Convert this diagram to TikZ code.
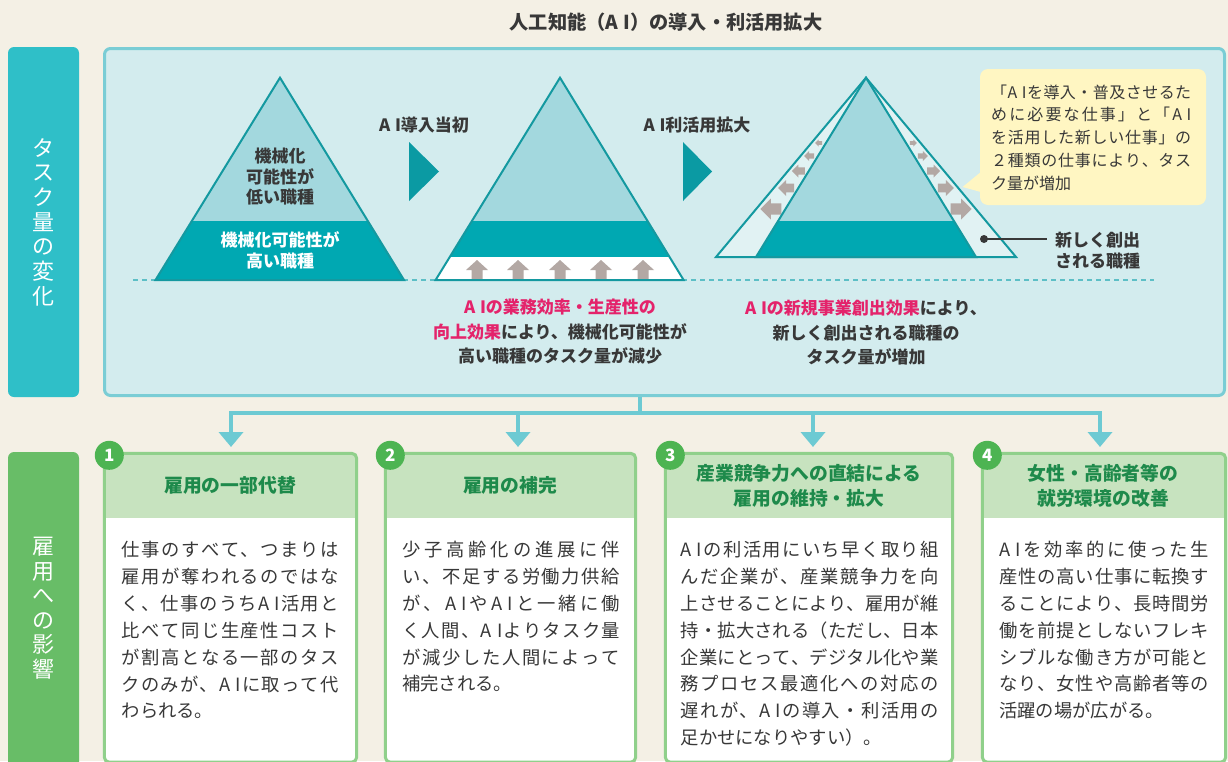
\documentclass[tikz,border=0pt]{standalone}
\usepackage{fontspec}
\usetikzlibrary{arrows.meta,calc}
\newfontfamily\jp{Noto Sans CJK JP}
\definecolor{bgc}{HTML}{F4F0E5}
\definecolor{tealLab}{HTML}{2FBFC8}
\definecolor{greenLab}{HTML}{68BD67}
\definecolor{panelFill}{HTML}{D3ECEE}
\definecolor{panelLine}{HTML}{7ACDD5}
\definecolor{triLight}{HTML}{A3D8DE}
\definecolor{triDark}{HTML}{00A8B2}
\definecolor{triLine}{HTML}{1499A0}
\definecolor{triPale}{HTML}{E1F2F3}
\definecolor{arrDark}{HTML}{0B9AA3}
\definecolor{grayArr}{HTML}{B3A8A4}
\definecolor{pinkT}{HTML}{E4236B}
\definecolor{textDark}{HTML}{383838}
\definecolor{connC}{HTML}{6DCAD3}
\definecolor{boxLine}{HTML}{90D08B}
\definecolor{hdrFill}{HTML}{C7E3BF}
\definecolor{hdrText}{HTML}{1E8A4B}
\definecolor{circC}{HTML}{4DB452}
\definecolor{calFill}{HTML}{FFF6C2}

\def\jspA#1{#1\jspB}
\def\jspB#1{\ifx#1\relax\else\hfil#1\expandafter\jspB\fi}
\newcommand\jline[2]{\makebox[#1][s]{\expandafter\jspA#2\relax}}
\newcommand\AI{A\kern0.28em I}

\tikzset{
  sidelab/.style={rounded corners=6pt, minimum width=71pt, inner sep=0pt, text=white, align=center,
    font=\jp\fontsize{22}{24.7}\selectfont},
  triline/.style={draw=triLine, line width=2pt, line join=miter},
  bold17/.style={text=textDark, align=center, font=\jp\bfseries\fontsize{17}{20.5}\selectfont, inner sep=0pt},
  lowtext/.style={text=textDark, align=center, font=\jp\bfseries\fontsize{17}{24.5}\selectfont, inner sep=0pt},
  body/.style={anchor=west, inner sep=0pt, text=textDark, font=\jp\fontsize{18.3}{18.3}\selectfont},
  caltext/.style={anchor=west, inner sep=0pt, text=textDark, font=\jp\fontsize{16}{16}\selectfont},
  hdrT/.style={text=hdrText, align=center, inner sep=0pt, font=\jp\bfseries\fontsize{18.8}{25}\selectfont},
  boxbody/.style={fill=white, rounded corners=5pt, minimum height=308.5pt, inner sep=0pt},
  boxline/.style={draw=boxLine, line width=3pt, rounded corners=5pt},
  numc/.style={circle, fill=circC, text=white, minimum size=29pt, inner sep=0pt,
    font=\jp\bfseries\fontsize{17}{17}\selectfont},
  conn/.style={draw=connC, line width=4pt},
  larr/.pic={\fill[grayArr] (-0.5,0)--(0,-0.5)--(0,-0.27)--(0.5,-0.27)--(0.5,0.27)--(0,0.27)--(0,0.5)--cycle;}
}

\newcommand\empbox[4]{%
  \node[boxbody, minimum width=#3] (#1) at (#2,607.75) {};
  \begin{scope}
    \clip[rounded corners=5pt] (#1.north west) rectangle (#1.south east);
    \fill[hdrFill] (#1.north west) rectangle (#1.east |- hb);
  \end{scope}
  \draw[boxline] (#1.north west) rectangle (#1.south east);
  \node[numc] (#1n) at ([xshift=5pt,yshift=-2pt]#1.north west) {#4};
}

\begin{document}
\begin{tikzpicture}[x=1pt,y=-1pt]
\useasboundingbox (0,0) rectangle (1228,761);
\fill[bgc] (0,0) rectangle (1228,761);

% title
\node[text=textDark, font=\jp\bfseries\fontsize{19.2}{22}\selectfont, inner sep=0pt] (title) at (666,22) {人工知能（\AI）の導入・利活用拡大};

% side labels
\node[sidelab, fill=tealLab, minimum height=350pt] (labA) at (43.5,222) {タ\\ス\\ク\\量\\の\\変\\化};
\node[sidelab, fill=greenLab, minimum height=330pt] (labB) at (43.5,617) {};
\node[text=white, align=center, inner sep=0pt, font=\jp\fontsize{22}{24.5}\selectfont] (labBt) at (43.5,608) {雇\\用\\へ\\の\\影\\響};

% main panel
\node[draw=panelLine, line width=3pt, fill=panelFill, rounded corners=6pt, minimum width=1120pt, minimum height=347pt, inner sep=0pt] (panel) at (664.5,222) {};

% dashed baseline
\coordinate (dl) at (133,280);
\coordinate (dr) at (1154,280);
\draw[draw=connC!85!teal, line width=1.5pt, dash pattern=on 5pt off 4pt] (dl) -- (dr);

% triangle 1
\coordinate (T1a) at (280,77.7);
\coordinate (T1l) at (155.5,280);
\coordinate (T1r) at (404,280);
\begin{scope}
  \clip (T1a)--(T1l)--(T1r)--cycle;
  \fill[triLight] (150,70) rectangle (410,281);
  \fill[triDark] (150,221) rectangle (410,281);
\end{scope}
\draw[triline] (T1a)--(T1l)--(T1r)--cycle;
\node[bold17] (t1top) at (280,177) {機械化\\可能性が\\低い職種};
\node[bold17, text=white, font=\jp\bfseries\fontsize{17}{21}\selectfont] (t1bot) at (280,250.5) {機械化可能性が\\高い職種};

% step arrows
\fill[arrDark] (409,142)--(439,171.5)--(409,201)--cycle;
\fill[arrDark] (683,142)--(712,171.5)--(683,201)--cycle;
\node[bold17] (s1) at (424,125) {\AI 導入当初};
\node[bold17] (s2) at (697,125) {\AI 利活用拡大};

% triangle 2
\coordinate (T2a) at (560,77.7);
\coordinate (T2l) at (435.6,280);
\coordinate (T2r) at (683.6,280);
\begin{scope}
  \clip (T2a)--(T2l)--(T2r)--cycle;
  \fill[triLight] (430,70) rectangle (690,281);
  \fill[triDark] (430,221) rectangle (690,257);
  \fill[white] (430,257) rectangle (690,281);
\end{scope}
\foreach \x in {477,518,560,601,643}
  \fill[grayArr] (\x,260)--(\x+11,270)--(\x+5.5,270)--(\x+5.5,280)--(\x-5.5,280)--(\x-5.5,270)--(\x-11,270)--cycle;
\draw[triline] (T2a)--(T2l)--(T2r)--cycle;

% triangle 3
\coordinate (T3a) at (866,77.7);
\coordinate (T3L) at (716,257);
\coordinate (T3R) at (1016,257);
\coordinate (T3l) at (756,257);
\coordinate (T3r) at (976,257);
\fill[triPale] (T3a)--(T3L)--(T3R)--cycle;
\begin{scope}
  \clip (T3a)--(T3l)--(T3r)--cycle;
  \fill[triLight] (740,70) rectangle (990,258);
  \fill[triDark] (740,221) rectangle (990,258);
\end{scope}
\foreach \y/\s in {143/7,156/10,171/13,188/16,209/21}{
  \pic[scale=\s] at ({866-0.725*(\y-77.7)},\y) {larr};
  \pic[xscale=-\s,yscale=\s] at ({866+0.725*(\y-77.7)},\y) {larr};
}
\draw[triline] (T3a)--(T3L)--(T3R)--cycle;
\draw[triline] (T3a)--(T3l)--(T3r)--cycle;

% callout
\node[fill=calFill, rounded corners=8pt, minimum width=226pt, minimum height=136pt, inner sep=0pt] (cal) at (1093,137) {};
\coordinate (caltip) at (962.6,187);
\fill[calFill] ([xshift=1pt,yshift=-35pt]cal.west) -- (caltip) -- ([xshift=1pt,yshift=-55pt]cal.west) -- cycle;
\foreach \t [count=\i] in {「\AI を導入・普及させるた, めに必要な仕事」と「\AI, を活用した新しい仕事」の, ２種類の仕事により、タス}
  \node[caltext] (c\i) at (991,{92+22.8*(\i-1)}) {\jline{200pt}{\t}};
\node[caltext] (c5) at (991,183.2) {ク量が増加};

% new jobs pointer
\coordinate (dot) at (984,239);
\node[bold17, anchor=west, align=left, font=\jp\bfseries\fontsize{17}{21}\selectfont] (newjob) at (1055,250.5) {新しく創出\\される職種};
\fill[textDark] (dot) circle (4pt);
\draw[textDark, line width=1.6pt] (dot) -- ([xshift=-8pt]dot -| newjob.west);

% lower explanations
\node[lowtext] (ex1) at (560,332) {\textcolor{pinkT}{\AI の業務効率・生産性の}\\\textcolor{pinkT}{向上効果}により、機械化可能性が\\高い職種のタスク量が減少};
\node[lowtext] (ex2) at (866,333) {\textcolor{pinkT}{\AI の新規事業創出効果}により、\\新しく創出される職種の\\タスク量が増加};

% boxes
\coordinate (hb) at (0,518);
\empbox{b1}{230.5}{252pt}{1}
\empbox{b2}{510.5}{250pt}{2}
\empbox{b3}{809}{287pt}{3}
\empbox{b4}{1104}{243pt}{4}

\node[hdrT] (h1) at (230,485) {雇用の一部代替};
\node[hdrT] (h2) at (510,485) {雇用の補完};
\node[hdrT] (h3) at (809,485.5) {産業競争力への直結による\\雇用の維持・拡大};
\node[hdrT] (h4) at (1103,485.5) {女性・高齢者等の\\就労環境の改善};

% body texts
\foreach \t [count=\i] in {仕事のすべて、つまりは, 雇用が奪われるのではな, く、仕事のうち\AI 活用と, 比べて同じ生産性コスト, が割高となる一部のタス, クのみが、\AI に取って代}
  \node[body] (pa\i) at (121.5,{550+26.8*(\i-1)}) {\jline{217pt}{\t}};
\node[body] (pa7) at (121.5,{550+26.8*6}) {わられる。};

\foreach \t [count=\i] in {少子高齢化の進展に伴, い、不足する労働力供給, が、\AI や\AI と一緒に働, く人間、\AI よりタスク量, が減少した人間によって}
  \node[body] (pb\i) at (402,{550+26.8*(\i-1)}) {\jline{218pt}{\t}};
\node[body] (pb6) at (402,{550+26.8*5}) {補完される。};

\foreach \t [count=\i] in {\AI の利活用にいち早く取り組, んだ企業が、産業競争力を向, 上させることにより、雇用が維, 持・拡大される（ただし、日本, 企業にとって、デジタル化や業, 務プロセス最適化への対応の, 遅れが、\AI の導入・利活用の}
  \node[body] (pc\i) at (680.5,{550+26.8*(\i-1)}) {\jline{258pt}{\t}};
\node[body] (pc8) at (680.5,{550+26.8*7}) {足かせになりやすい）。};

\foreach \t [count=\i] in {\AI を効率的に使った生, 産性の高い仕事に転換す, ることにより、長時間労, 働を前提としないフレキ, シブルな働き方が可能と, なり、女性や高齢者等の}
  \node[body] (pd\i) at (999,{550+26.8*(\i-1)}) {\jline{210pt}{\t}};
\node[body] (pd7) at (999,{550+26.8*6}) {活躍の場が広がる。};

% connectors
\coordinate (split) at (640,413);
\coordinate (t1) at (231,447);
\coordinate (t2) at (518,447);
\coordinate (t3) at (813,447);
\coordinate (t4) at (1100,447);
\draw[conn] (panel.south -| split) -- (split);
\draw[conn, line cap=rect] (t1 |- split) -- (t4 |- split);
\foreach \n in {1,2,3,4}
  \draw[conn, -{Triangle[length=15pt,width=24pt]}] (t\n |- split) -- (t\n);
\end{tikzpicture}
\end{document}
